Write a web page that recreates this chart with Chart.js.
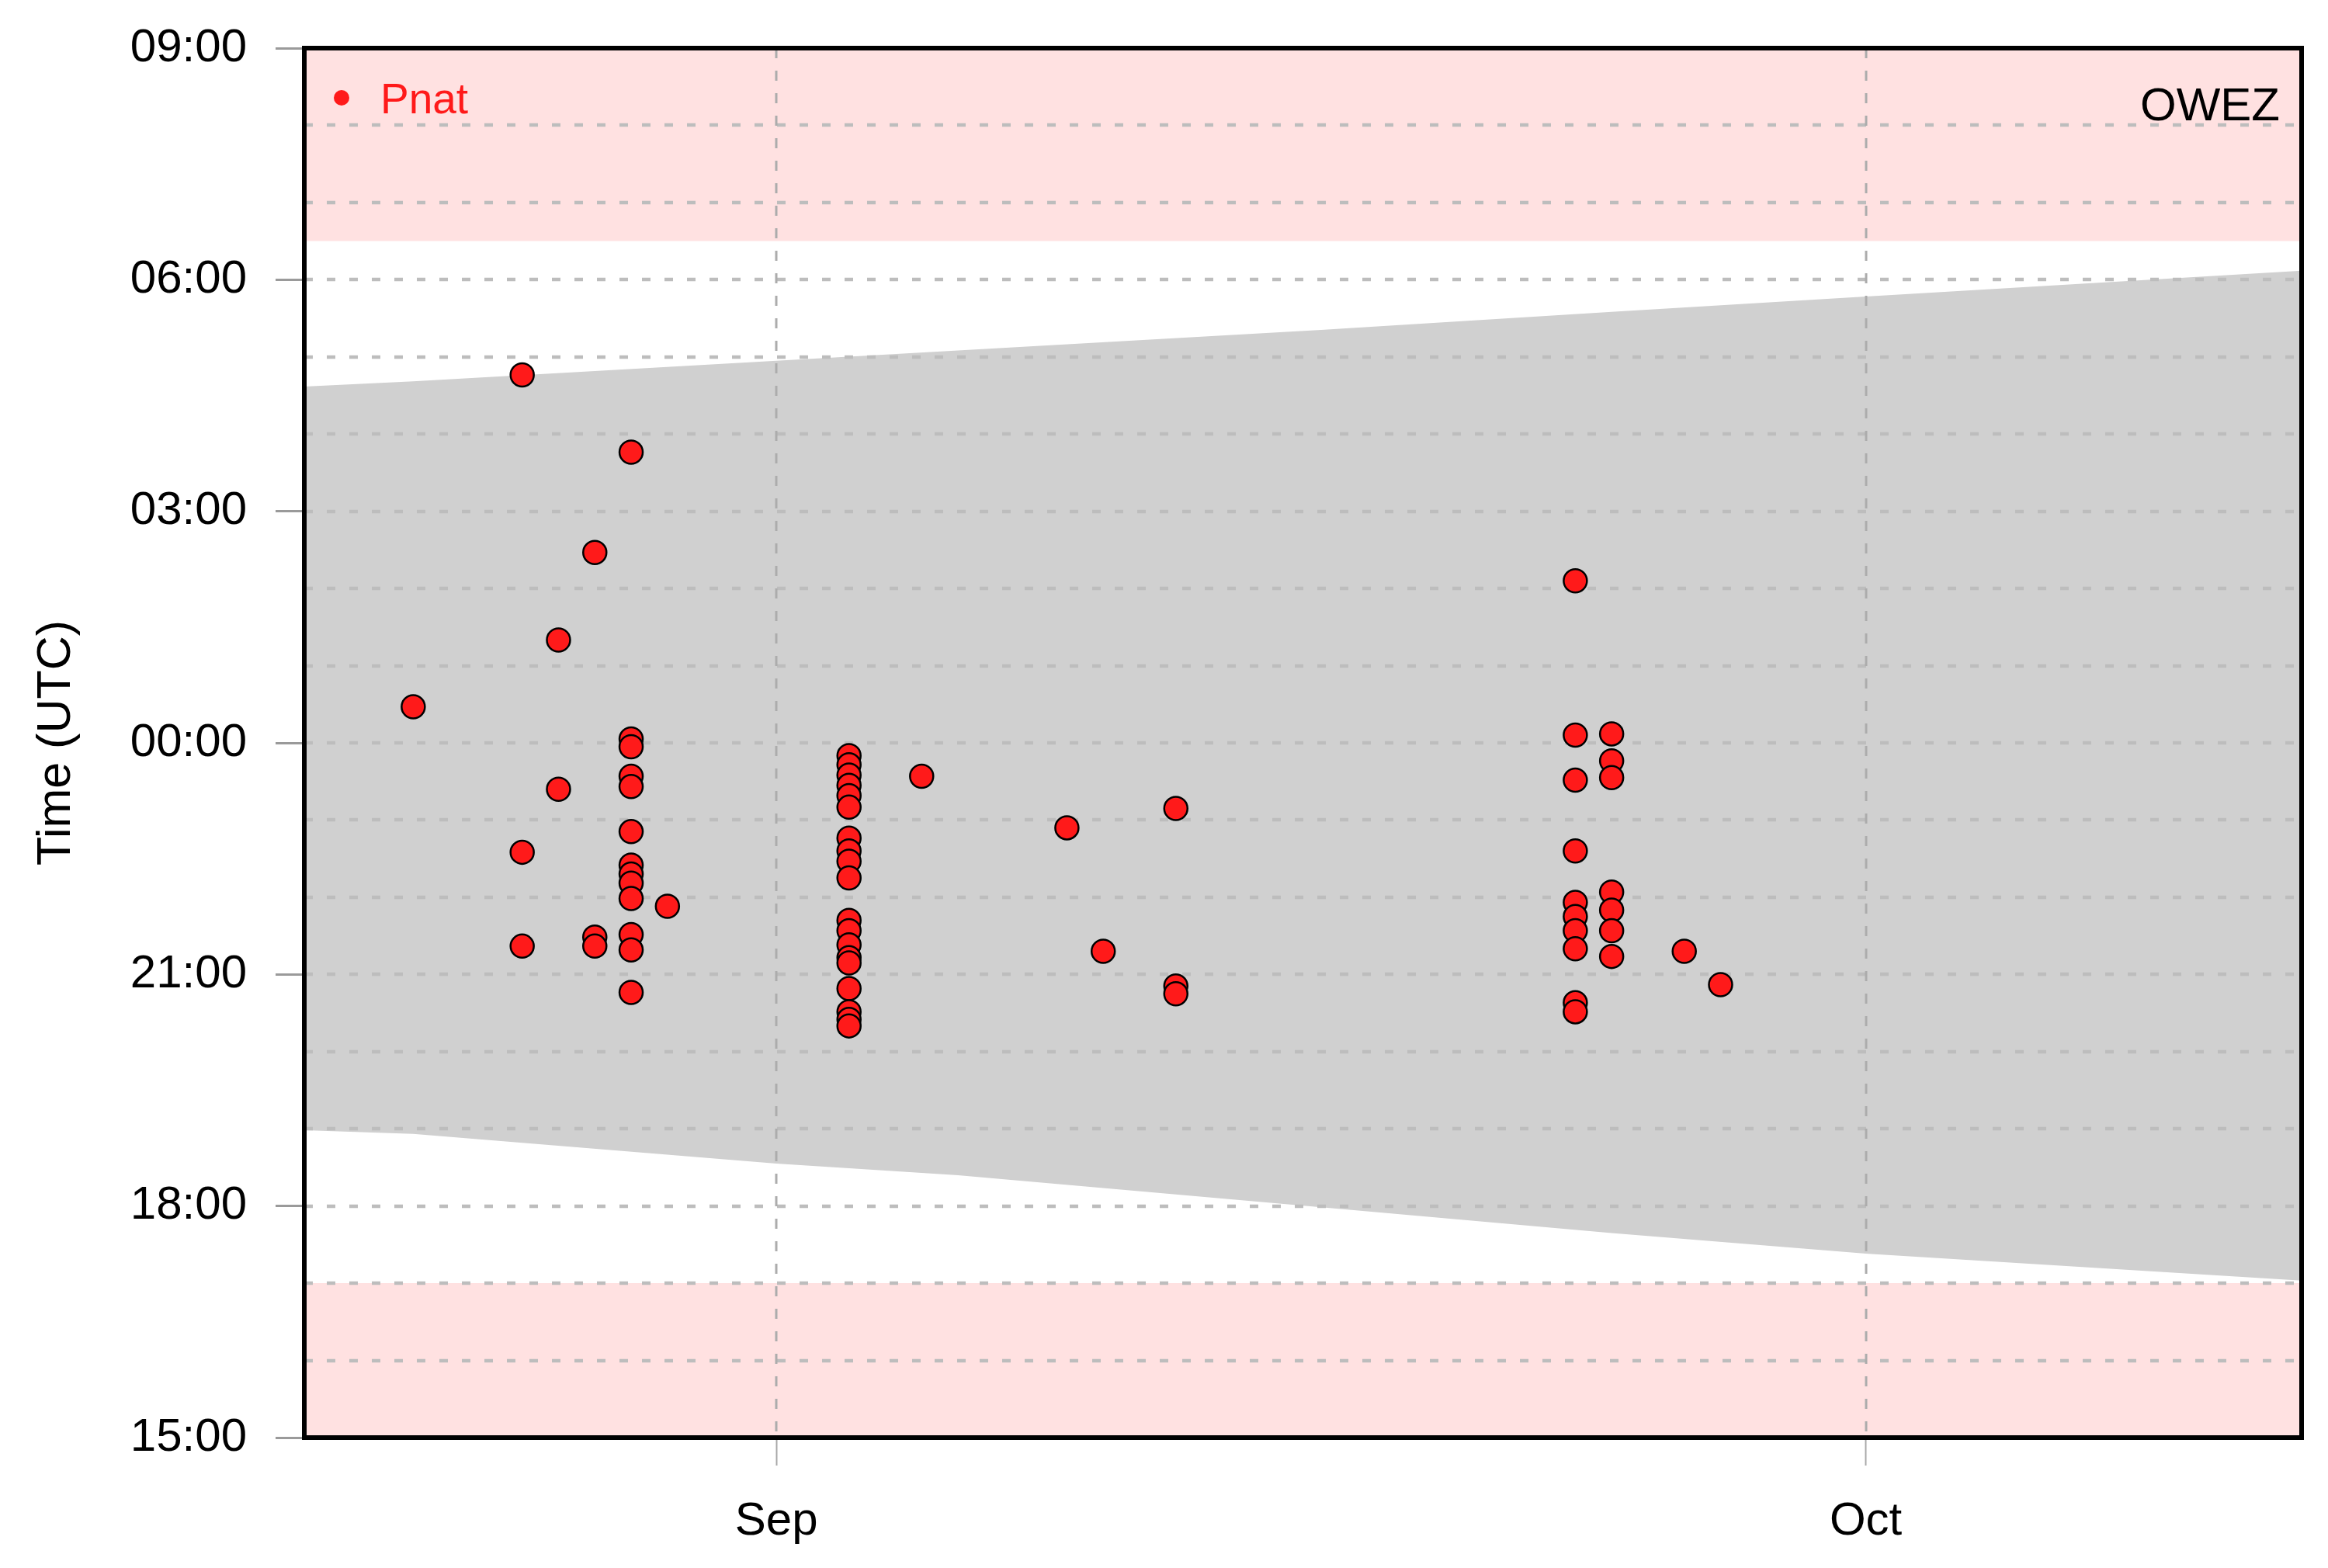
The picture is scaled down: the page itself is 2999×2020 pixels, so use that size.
<!DOCTYPE html>
<html>
<head>
<meta charset="utf-8">
<title>Pnat detections - OWEZ</title>
<script src="https://cdn.jsdelivr.net/npm/chart.js@4.4.1/dist/chart.umd.min.js"></script>
<style>
  html, body { margin: 0; padding: 0; background: #fff; }
  #chart { display: block; }
</style>
</head>
<body>
<canvas id="chart" width="2999" height="2020"></canvas>
<script>
// Pnat detections: date (MM-DD) and time (UTC), one entry per point
const pnatDates = [
  '08-22',
  '08-25', '08-25', '08-25',
  '08-26', '08-26',
  '08-27', '08-27', '08-27',
  '08-28', '08-28', '08-28', '08-28', '08-28', '08-28', '08-28', '08-28', '08-28', '08-28', '08-28', '08-28', '08-28',
  '08-29',
  '09-03', '09-03', '09-03', '09-03', '09-03', '09-03', '09-03', '09-03', '09-03', '09-03',
  '09-03', '09-03', '09-03', '09-03', '09-03', '09-03', '09-03', '09-03', '09-03',
  '09-05',
  '09-09',
  '09-10',
  '09-12', '09-12', '09-12',
  '09-23', '09-23', '09-23', '09-23', '09-23', '09-23', '09-23', '09-23', '09-23', '09-23',
  '09-24', '09-24', '09-24', '09-24', '09-24', '09-24', '09-24',
  '09-26',
  '09-27'
];
const pnatTimes = [
  '00:28',
  '04:46', '22:35', '21:22',
  '01:20', '23:24',
  '02:28', '21:29', '21:22',
  '03:46', '00:03', '23:57', '23:34', '23:26', '22:51', '22:25', '22:18', '22:11', '21:59', '21:31', '21:19', '20:46',
  '21:53',
  '23:50', '23:43', '23:35', '23:27', '23:19', '23:10', '22:46', '22:36', '22:28', '22:15',
  '21:42', '21:34', '21:23', '21:13', '21:09', '20:49', '20:31', '20:25', '20:20',
  '23:34',
  '22:54',
  '21:18',
  '23:09', '20:51', '20:45',
  '02:06', '00:06', '23:31', '22:36', '21:56', '21:45', '21:34', '21:20', '20:38', '20:31',
  '00:07', '23:46', '23:33', '22:04', '21:50', '21:34', '21:14',
  '21:18',
  '20:52'
];

// night (grey): sunset of the evening and sunrise of the next morning
const nightDates   = ['08-19', '08-22', '09-01', '09-06', '09-16', '09-24', '10-01', '10-13'];
const sunsetTimes  = ['18:59', '18:56', '18:33', '18:24', '17:59', '17:39', '17:23', '17:02'];
const sunriseTimes = ['04:37', '04:41', '04:57', '05:05', '05:21', '05:35', '05:47', '06:07'];

// pink bands: before this evening time / after this morning time
const eveningBand = '17:00';
const morningBand = '06:30';

const xRange = ['08-19', '10-13'];
const xTickDates = ['09-01', '10-01'];
const xTickLabels = ['Sep', 'Oct'];
const yMin = 15, yMax = 33;   // 15:00 .. 09:00 next day

const RED = '#ff1a1a';
const GREY = '#d0d0d0';
const PINK = '#ffe1e1';

// days relative to 1 Sep
const dayOf = md => {
  const [m, d] = md.split('-').map(Number);
  return (Date.UTC(2001, m - 1, d) - Date.UTC(2001, 8, 1)) / 864e5;
};
// hours on a 15..33 scale (after midnight counts as 24+)
const hourOf = hm => {
  const [h, m] = hm.split(':').map(Number);
  const v = h + m / 60;
  return v < yMin ? v + 24 : v;
};
const pad2 = n => String(n).padStart(2, '0');

const pnatPoints = pnatDates.map((d, i) => ({ x: dayOf(d), y: hourOf(pnatTimes[i]) }));
const sunset = nightDates.map((d, i) => ({ x: dayOf(d), y: hourOf(sunsetTimes[i]) }));
const sunrise = nightDates.map((d, i) => ({ x: dayOf(d), y: hourOf(sunriseTimes[i]) }));
const xMin = dayOf(xRange[0]), xMax = dayOf(xRange[1]);
const bandLine = t => [{ x: xMin, y: hourOf(t) }, { x: xMax, y: hourOf(t) }];
const xTickDays = xTickDates.map(dayOf);

Chart.defaults.font.family = '"Liberation Sans", Arial, sans-serif';
Chart.defaults.color = '#000';

const noLine = {
  type: 'line',
  borderWidth: 0,
  borderColor: 'transparent',
  pointRadius: 0,
  pointHoverRadius: 0,
  tension: 0
};

// grid goes on top of the shading but under the points; frame and labels last
const overlay = {
  id: 'overlay',
  beforeDatasetDraw(chart, args) {
    if (args.index !== 0) return;
    const { ctx, chartArea: a, scales: { x, y } } = chart;
    ctx.save();
    ctx.beginPath();
    ctx.rect(a.left, a.top, a.width, a.height);
    ctx.clip();
    ctx.strokeStyle = '#bdbdbd';
    ctx.lineWidth = 4.5;
    ctx.setLineDash([11, 18]);
    y.ticks.forEach(t => {
      const py = Math.round(y.getPixelForValue(t.value));
      ctx.beginPath();
      ctx.moveTo(a.left, py);
      ctx.lineTo(a.right, py);
      ctx.stroke();
    });
    ctx.strokeStyle = '#acacac';
    ctx.lineWidth = 3;
    ctx.setLineDash([13, 16]);
    x.ticks.forEach(t => {
      const px = Math.round(x.getPixelForValue(t.value));
      ctx.beginPath();
      ctx.moveTo(px, a.top);
      ctx.lineTo(px, a.bottom);
      ctx.stroke();
    });
    ctx.restore();
  },
  afterDraw(chart) {
    const { ctx, chartArea: a } = chart;
    const ds = chart.data.datasets[0];
    ctx.save();
    ctx.strokeStyle = '#000';
    ctx.lineWidth = 6;
    ctx.strokeRect(a.left, a.top, a.width, a.height);

    ctx.fillStyle = ds.backgroundColor;
    ctx.beginPath();
    ctx.arc(a.left + 48, a.top + 64, 10, 0, Math.PI * 2);
    ctx.fill();
    ctx.font = '55px "Liberation Sans", Arial, sans-serif';
    ctx.textBaseline = 'alphabetic';
    ctx.textAlign = 'left';
    ctx.fillText(ds.label, a.left + 98, a.top + 84);

    ctx.fillStyle = '#000';
    ctx.font = '60px "Liberation Sans", Arial, sans-serif';
    ctx.textAlign = 'right';
    ctx.fillText('OWEZ', a.right - 28, a.top + 93);
    ctx.restore();
  }
};

new Chart(document.getElementById('chart'), {
  type: 'scatter',
  data: {
    datasets: [
      {
        label: 'Pnat',
        data: pnatPoints,
        backgroundColor: RED,
        borderColor: '#000',
        borderWidth: 2.5,
        pointRadius: 15,
        pointHoverRadius: 15
      },
      { ...noLine, label: 'sunset', data: sunset, fill: false },
      { ...noLine, label: 'sunrise', data: sunrise, fill: '-1', backgroundColor: GREY },
      { ...noLine, label: 'evening', data: bandLine(eveningBand), fill: 'start', backgroundColor: PINK },
      { ...noLine, label: 'morning', data: bandLine(morningBand), fill: 'end', backgroundColor: PINK }
    ]
  },
  options: {
    responsive: false,
    animation: false,
    events: [],
    layout: { padding: { top: 62, right: 34, left: 0, bottom: 0 } },
    plugins: {
      legend: { display: false },
      tooltip: { enabled: false }
    },
    scales: {
      x: {
        type: 'linear',
        min: xMin,
        max: xMax,
        afterBuildTicks: s => { s.ticks = xTickDays.map(v => ({ value: v })); },
        afterFit: s => { s.height = 168; },
        ticks: {
          callback: v => xTickLabels[xTickDays.indexOf(v)],
          font: { size: 60 },
          padding: 36,
          maxRotation: 0,
          autoSkip: false
        },
        grid: { drawOnChartArea: false, tickLength: 36, tickWidth: 2, tickColor: '#a8a8a8' },
        border: { display: false }
      },
      y: {
        min: yMin,
        max: yMax,
        afterFit: s => {
          s.width = 392;
          s.paddingTop = 0;
          s.paddingBottom = 0;
        },
        ticks: {
          stepSize: 1,
          autoSkip: false,
          callback: v => v % 3 === 0 ? pad2(v % 24) + ':00' : '',
          font: { size: 60 },
          padding: 37
        },
        grid: {
          drawOnChartArea: false,
          tickLength: 37,
          tickWidth: 3,
          tickColor: c => (c.tick && c.tick.value % 3 === 0) ? '#9a9a9a' : 'transparent'
        },
        border: { display: false },
        title: {
          display: true,
          text: 'Time (UTC)',
          font: { size: 61 },
          padding: { top: 37, bottom: 0 }
        }
      }
    }
  },
  plugins: [overlay]
});
</script>
</body>
</html>
